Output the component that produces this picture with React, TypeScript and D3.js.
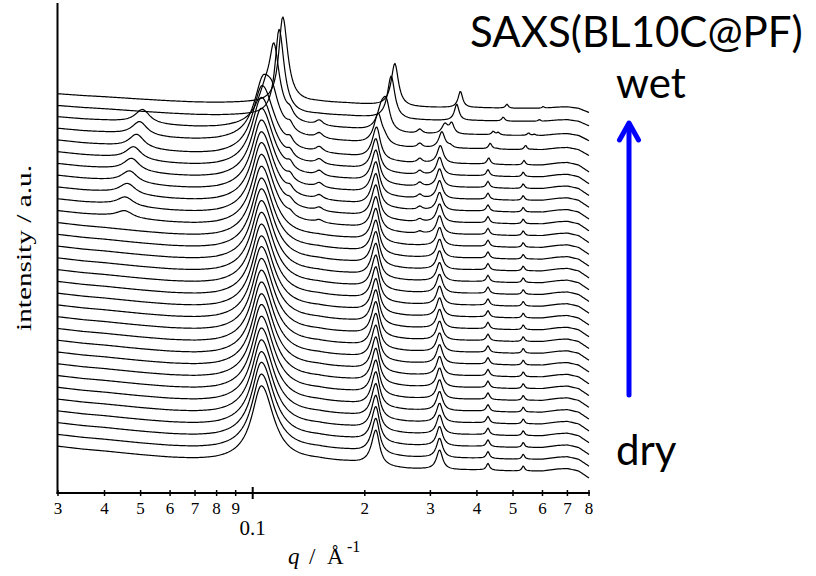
import React from 'react';
import * as d3 from 'd3';

// humidity series: index 0 = dry (bottom trace) ... 30 = wet (top trace)
const dryQ = [
  0.1055, 0.1055, 0.1055, 0.1055, 0.1055, 0.1055, 0.1055, 0.1055, 0.1055, 0.1055,
  0.1055, 0.1055, 0.1055, 0.1055, 0.1055, 0.1055, 0.1055, 0.1055, 0.1055, 0.1055,
  0.1055, 0.1055, 0.1055, 0.1055, 0.1055, 0.1055, 0.106, 0.107, 0.109, 0.11, 0.11,
];
const dryAmp = [
  76, 76, 76, 75, 75, 75, 75, 75, 74, 74,
  74, 74, 74, 73, 73, 73, 73, 73, 72, 72,
  72, 72, 71, 71, 71, 70, 70, 64, 38, 0, 0,
];
const wetQ = [
  0.12, 0.12, 0.12, 0.12, 0.12, 0.12, 0.12, 0.12, 0.12, 0.12,
  0.12, 0.12, 0.12, 0.12, 0.12, 0.12, 0.12, 0.12, 0.12, 0.12,
  0.12, 0.12, 0.12, 0.12, 0.12, 0.12, 0.12, 0.113, 0.1141, 0.1177, 0.1204,
];
const wetAmp = [
  0, 0, 0, 0, 0, 0, 0, 0, 0, 0,
  0, 0, 0, 0, 0, 0, 0, 0, 0, 0,
  0, 0, 0, 0, 0, 0, 0, 12, 55, 86, 86,
];
const midQ = [
  0.05, 0.05, 0.05, 0.05, 0.05, 0.05, 0.05, 0.05, 0.05, 0.05,
  0.05, 0.05, 0.05, 0.05, 0.05, 0.05, 0.05, 0.05, 0.05, 0.05,
  0.0453, 0.0455, 0.0461, 0.0467, 0.0473, 0.0479, 0.0488, 0.0497, 0.0506, 0.05, 0.05,
];
const midAmp = [
  0, 0, 0, 0, 0, 0, 0, 0, 0, 0,
  0, 0, 0, 0, 0, 0, 0, 0, 0, 0,
  7, 9, 11, 12, 13, 13, 14, 14, 14, 0, 0,
];
const bgScale = [
  1, 1, 1, 1, 1, 1, 1, 1, 1, 1,
  1, 1, 1, 1, 1, 1, 1, 1, 1, 1,
  1, 1, 1, 1, 1, 1, 1, 0.85, 0.75, 0.65, 0.6,
];

// peak orders (ratio to first order, relative height, half widths left/right)
const dryRatio = [1, 2.03, 3.01, 4.06, 5.05];
const dryRel = [1, 0.47, 0.26, 0.09, 0.066];
const dryGammaL = [0.0075, 0.007, 0.0072, 0.005, 0.005];
const dryGammaR = [0.01, 0.006, 0.0072, 0.005, 0.005];
const wetRatio = [1, 2, 3, 4, 5];
const wetRel = [1, 0.5, 0.19, 0.045, 0.02];
const wetGammaL = [0.0035, 0.0065, 0.006, 0.005, 0.005];
const wetGammaR = [0.0045, 0.0065, 0.006, 0.005, 0.005];
const midExtraQ = [0.05, 0.126, 0.151, 0.281];
const midExtraRel = [1, 0.45, 0.35, 0.3];
const midExtraGamma = [0.0028, 0.003, 0.004, 0.005];

// common background (drop below the trace's start level)
const bgQ = [0.03, 0.035, 0.04, 0.05, 0.06, 0.07, 0.08, 0.09, 0.1, 0.12, 0.15, 0.18, 0.22, 0.26, 0.32, 0.4, 0.5, 0.6, 0.66, 0.7, 0.75, 0.8];
const bgLevel = [0, -3, -5, -9, -12, -14, -15, -15, -15, -15, -14, -16, -20, -22, -23, -23, -24, -24, -22, -21.5, -24, -31];

const minorTicks = [0.03, 0.04, 0.05, 0.06, 0.07, 0.08, 0.09, 0.2, 0.3, 0.4, 0.5, 0.6, 0.7, 0.8];
const minorLabels = ['3', '4', '5', '6', '7', '8', '9', '2', '3', '4', '5', '6', '7', '8'];
const majorTicks = [0.1];
const majorLabels = ['0.1'];

const BASE = 46;
const STEP = 11.77;

const x = d3.scaleLog().domain([0.03, 0.8]).range([58, 589]);
const y = d3.scaleLinear().domain([0, 490]).range([493, 3]);
const bg = d3.scaleLog().domain(bgQ).range(bgLevel);

const lor = (q: number, q0: number, h: number, gl: number, gr: number) => {
  if (h === 0) return 0;
  const g = q < q0 ? gl : gr;
  const d = (q - q0) / g;
  return h / (1 + d * d);
};

const qGrid = d3.range(58, 589.5, 1).map((px) => x.invert(px));

const traces = dryAmp.map((_, i) => {
  return qGrid.map((q) => {
    let v = BASE + STEP * i + bgScale[i] * bg(q);
    dryRatio.forEach((r, n) => {
      v += lor(q, dryQ[i] * r, dryAmp[i] * dryRel[n], dryGammaL[n], dryGammaR[n]);
    });
    wetRatio.forEach((r, n) => {
      v += lor(q, wetQ[i] * r, wetAmp[i] * wetRel[n], wetGammaL[n], wetGammaR[n]);
    });
    midExtraQ.forEach((mq, n) => {
      const pos = n === 0 ? midQ[i] : mq;
      v += lor(q, pos, midAmp[i] * midExtraRel[n], midExtraGamma[n], midExtraGamma[n]);
    });
    return [q, v] as [number, number];
  });
});

const line = d3
  .line<[number, number]>()
  .x((d) => x(d[0]))
  .y((d) => y(d[1]));

const serif = '"Liberation Serif", "Times New Roman", serif';
const sans = 'Lato, "Open Sans", sans-serif';

export default function App() {
  const axisY = y(0);
  return (
    <svg width={816} height={576} style={{ display: 'block', position: 'absolute', left: 0, top: 0 }}>
      <rect width={816} height={576} fill="#fff" />
      <g fill="none" stroke="#000" strokeWidth={1.2} strokeLinejoin="round">
        {traces.map((t, i) => (
          <path key={i} d={line(t) || ''} />
        ))}
      </g>
      {/* axes */}
      <line x1={57.5} x2={57.5} y1={3} y2={axisY + 1} stroke="#000" strokeWidth={2} />
      <line x1={56.5} x2={590} y1={axisY} y2={axisY} stroke="#000" strokeWidth={2} />
      {minorTicks.map((t, k) => (
        <g key={'m' + k}>
          <line x1={x(t)} x2={x(t)} y1={axisY - 3} y2={axisY + 3} stroke="#000" strokeWidth={1.5} />
          <text x={x(t)} y={514} textAnchor="middle" fontFamily={serif} fontSize={17}>
            {minorLabels[k]}
          </text>
        </g>
      ))}
      {majorTicks.map((t, k) => (
        <g key={'M' + k}>
          <line x1={x(t)} x2={x(t)} y1={axisY - 6} y2={axisY + 6} stroke="#000" strokeWidth={2} />
          <text x={x(t)} y={535} textAnchor="middle" fontFamily={serif} fontSize={21}>
            {majorLabels[k]}
          </text>
        </g>
      ))}
      <text y={564} fontFamily={serif} fontSize={23}>
        <tspan x={288} fontStyle="italic">q</tspan>
        <tspan x={309}>/</tspan>
        <tspan x={327}>Å</tspan>
        <tspan x={347} dy={-12} fontSize={16}>-1</tspan>
      </text>
      <text
        transform="translate(31,248) rotate(-90)"
        textAnchor="middle"
        fontFamily={serif}
        fontSize={21}
        textLength={166}
        lengthAdjust="spacingAndGlyphs"
      >
        intensity /  a.u.
      </text>
      {/* annotations */}
      <text x={470} y={47} fontFamily={sans} fontSize={42}>
        SAXS(BL10C@PF)
      </text>
      <text x={616} y={98} fontFamily={sans} fontSize={42}>
        wet
      </text>
      <text x={616} y={465} fontFamily={sans} fontSize={42}>
        dry
      </text>
      <g stroke="#0000ff" strokeWidth={5} strokeLinecap="round" strokeLinejoin="round" fill="none">
        <line x1={629} x2={629} y1={395} y2={124} />
        <polyline points="619.5,140 629,123 638.5,140" />
      </g>
    </svg>
  );
}
